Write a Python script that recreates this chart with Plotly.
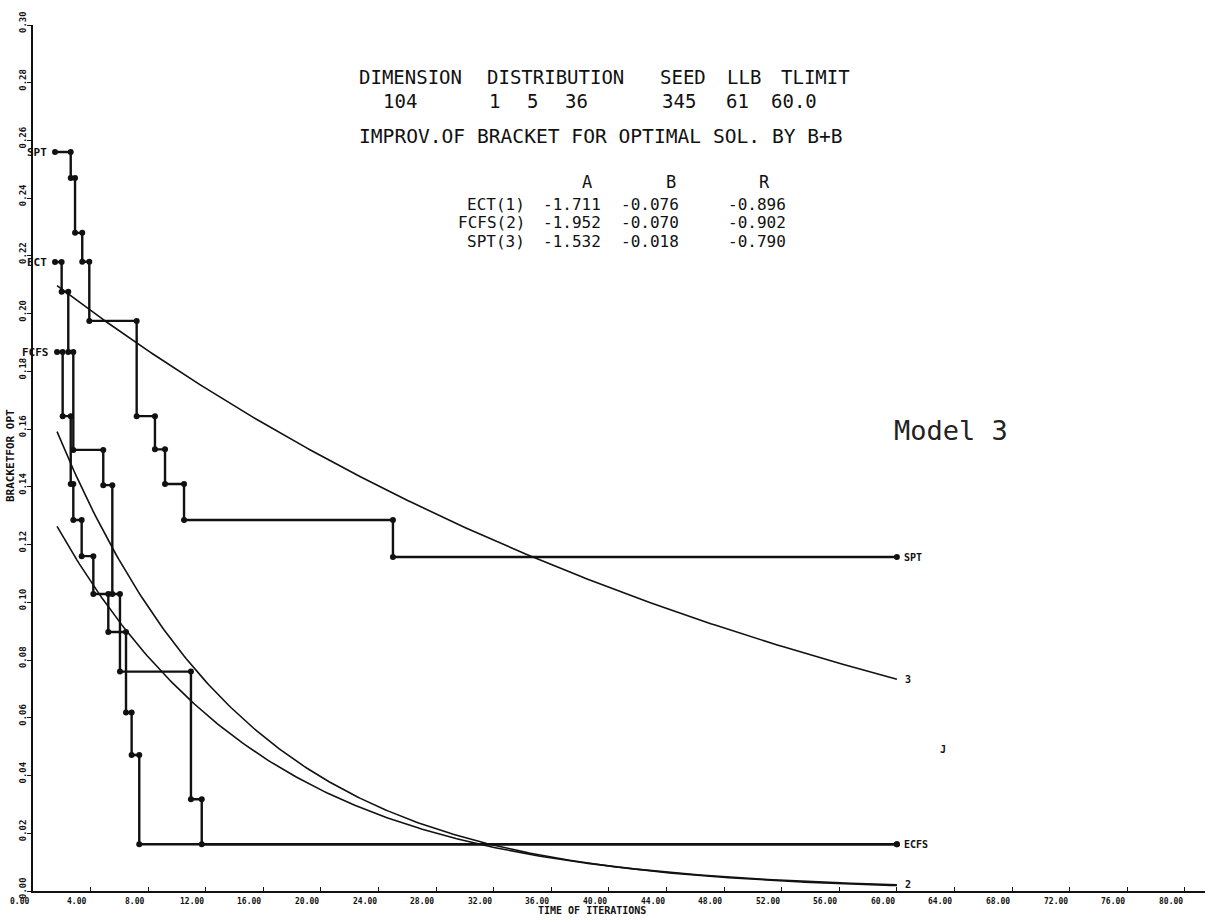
import numpy as np
import plotly.graph_objects as go

# Bracket for the optimal solution, recorded each time branch-and-bound improves it.
# *_time: time (iterations) at which the bracket dropped; *_bracket: new bracket value.
spt_time = [1.53, 2.62, 2.92, 3.42, 3.91, 7.20, 8.47, 9.17, 10.49, 25.0]
spt_bracket = [0.256, 0.247, 0.228, 0.218, 0.1975, 0.1645, 0.153, 0.141, 0.1285, 0.1157]

ect_time = [1.53, 1.99, 2.45, 2.80, 4.88, 5.51, 6.04, 10.97, 11.72]
ect_bracket = [0.2179, 0.2076, 0.1867, 0.1528, 0.1406, 0.1029, 0.0760, 0.0318, 0.0162]

fcfs_time = [1.67, 2.06, 2.62, 2.80, 3.38, 4.19, 5.23, 6.46, 6.85, 7.38]
fcfs_bracket = [0.1867, 0.1645, 0.1410, 0.1285, 0.1160, 0.1029, 0.0897, 0.0618, 0.0471, 0.0162]

time_limit = 60.0
fit_start = 1.67

# Exponential fits  bracket = exp(A + B * t)
rule_names = ["ECT(1)", "FCFS(2)", "SPT(3)"]
coef_a = [-1.711, -1.952, -1.532]
coef_b = [-0.076, -0.070, -0.018]
coef_r = [-0.896, -0.902, -0.790]
fit_end_labels = ["", "2", "3"]

# Run parameters
param_names = ["DIMENSION", "DISTRIBUTION", "SEED", "LLB", "TLIMIT"]
param_values = ["104", "1", "5", "36", "345", "61", "60.0"]
subtitle = "IMPROV.OF BRACKET FOR OPTIMAL SOL. BY B+B"

x_ticks = list(range(0, 81, 4))
y_ticks = [round(0.02 * i, 2) for i in range(16)]

INK = "#111111"
MONO = "DejaVu Sans Mono"

# plot area in pixels (left, right, top, bottom)
PL, PR, PT, PB = 33, 1205, 25, 891

# header block layout: pixel centres of each word / column
param_x = [410, 555, 683, 744, 815]
param_value_x = [400, 494, 532, 576, 679, 737, 794]
coef_col_x = [572, 650, 757]
coef_head_x = [587, 671, 764]


def px_to_paper(px, py):
    return (px - PL) / (PR - PL), (PB - py) / (PB - PT)


fig = go.Figure()


def add_steps(times, values):
    xs = list(times) + [time_limit]
    ys = list(values) + [values[-1]]
    fig.add_trace(go.Scatter(x=xs, y=ys, mode="lines", line_shape="hv",
                             line=dict(color=INK, width=2.4),
                             showlegend=False, hoverinfo="skip"))
    # dots on both ends of every horizontal run
    dot_x = list(times) + list(times[1:]) + [time_limit]
    dot_y = list(values) + list(values[:-1]) + [values[-1]]
    fig.add_trace(go.Scatter(x=dot_x, y=dot_y, mode="markers",
                             marker=dict(color=INK, size=6),
                             showlegend=False, hoverinfo="skip"))


add_steps(spt_time, spt_bracket)
add_steps(ect_time, ect_bracket)
add_steps(fcfs_time, fcfs_bracket)

t_fit = np.linspace(fit_start, time_limit, 300)
fit_ends = []
for a, b in zip(coef_a, coef_b):
    y_fit = np.exp(a + b * t_fit)
    fit_ends.append(y_fit[-1])
    fig.add_trace(go.Scatter(x=t_fit, y=y_fit, mode="lines",
                             line=dict(color=INK, width=1.6),
                             showlegend=False, hoverinfo="skip"))

ann = []
small = dict(family=MONO, size=8, color=INK)

# tick labels
for t in x_ticks:
    ann.append(dict(x=t, y=0, xref="x", yref="y", text=f"<b>{t:.2f}</b>", showarrow=False,
                    xanchor="center", yanchor="top", xshift=-14, yshift=-4, font=small))
for v in y_ticks:
    ann.append(dict(x=0, y=v, xref="x", yref="y", text=f"<b>{v:.2f}</b>", showarrow=False,
                    textangle=-90, xanchor="center", yanchor="middle", xshift=-10,
                    yshift=3, font=dict(family=MONO, size=9, color=INK)))


def text_at(px, py, text, size=16, anchor="center", family=MONO, color=INK, angle=0):
    x, y = px_to_paper(px, py)
    ann.append(dict(x=x, y=y, xref="paper", yref="paper", text=text, showarrow=False,
                    xanchor=anchor, yanchor="middle", textangle=angle,
                    font=dict(family=family, size=size, color=color)))


# axis titles
text_at(592, 911, "<b>TIME OF ITERATIONS</b>", size=10)
text_at(10, 456, "<b>BRACKETFOR OPT</b>", size=11, angle=-90)

# series labels at the left
for name, t0, v0 in [("SPT", spt_time[0], spt_bracket[0]),
                     ("ECT", ect_time[0], ect_bracket[0]),
                     ("FCFS", fcfs_time[0], fcfs_bracket[0])]:
    ann.append(dict(x=t0, y=v0, xref="x", yref="y", text=f"<b>{name}</b>", showarrow=False,
                    xanchor="right", xshift=-6, font=dict(family=MONO, size=11, color=INK)))

# labels at the right end
end_font = dict(family=MONO, size=10, color=INK)
ann.append(dict(x=time_limit, y=spt_bracket[-1], text="<b>SPT</b>", showarrow=False,
                xanchor="left", xshift=5, font=end_font))
ann.append(dict(x=time_limit, y=ect_bracket[-1], text="<b>ECFS</b>", showarrow=False,
                xanchor="left", xshift=5, font=end_font))
for lab, yend in zip(fit_end_labels, fit_ends):
    if lab:
        ann.append(dict(x=time_limit, y=yend, text=f"<b>{lab}</b>", showarrow=False,
                        xanchor="left", xshift=6, font=end_font))
ann.append(dict(x=63.2, y=0.049, text="<b>J</b>", showarrow=False, font=end_font))

# header block
for name, px in zip(param_names, param_x):
    text_at(px, 77, name, size=19)
for val, px in zip(param_values, param_value_x):
    text_at(px, 101, val, size=19)
text_at(357, 137, subtitle, size=19.6, anchor="left")
for col, px in zip(["A", "B", "R"], coef_head_x):
    text_at(px, 182, col, size=17)
for i, name in enumerate(rule_names):
    py = 204 + 18.5 * i
    text_at(527, py, name, size=16, anchor="right")
    for val, px in zip([coef_a[i], coef_b[i], coef_r[i]], coef_col_x):
        text_at(px, py, f"{val:.3f}", size=16)

text_at(951, 430, "Model 3", size=27, color="#222222")

fig.update_layout(
    width=1220, height=922,
    margin=dict(l=PL, r=1220 - PR, t=PT, b=922 - PB),
    paper_bgcolor="white", plot_bgcolor="white",
    annotations=ann,
    xaxis=dict(range=[0, 81.4], showline=True, linecolor=INK, linewidth=2,
               showgrid=False, zeroline=False, tickvals=x_ticks, ticks="inside",
               ticklen=4, tickcolor=INK, showticklabels=False),
    yaxis=dict(range=[0, 0.30], showline=True, linecolor=INK, linewidth=2,
               showgrid=False, zeroline=False, tickvals=y_ticks, ticks="outside",
               ticklen=4, tickcolor=INK, showticklabels=False),
)

fig.write_html("out.html")
